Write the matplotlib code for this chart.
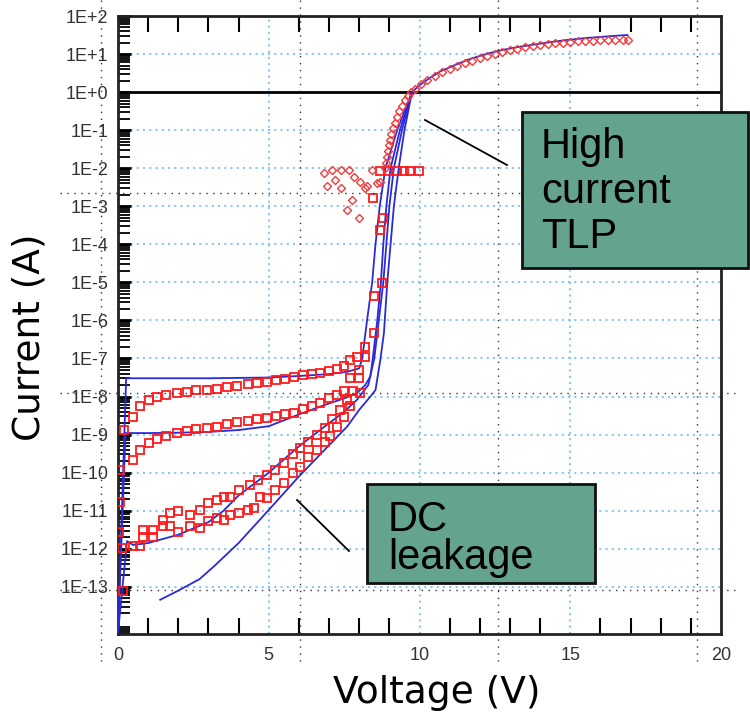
"""
DC leakage and high current TLP I-V curves on a log current axis.
"""
import matplotlib
matplotlib.use('Agg')
import matplotlib.pyplot as plt
import numpy as np
from matplotlib.lines import Line2D
from matplotlib.patches import Rectangle
from matplotlib.ticker import LogLocator, MultipleLocator, NullFormatter

###############################################################################
# Data (voltages in V, currents as log10 of A)
###############################################################################

# blue DC sweeps
dc1_v = [0.0, 0.27, 1.0, 2.0, 3.0, 4.0, 5.0, 6.0, 7.0, 7.6, 8.0, 8.1, 8.26, 8.43,
         8.54, 8.68, 8.87, 9.26, 9.75]
dc1_logi = [-14.2, -7.52, -7.52, -7.52, -7.52, -7.51, -7.5, -7.46, -7.41, -7.35,
            -7.26, -7.0, -6.0, -5.0, -4.0, -3.0, -2.0, -1.0, 0.0]

dc2_v = [0.0, 0.25, 1.0, 2.0, 3.0, 4.0, 5.0, 6.0, 7.0, 7.5, 7.92, 8.2, 8.37, 8.45,
         8.6, 8.72, 8.8, 8.9, 9.04, 9.35, 9.75]
dc2_logi = [-14.2, -8.96, -8.96, -8.95, -8.93, -8.88, -8.78, -8.47, -8.18, -8.05,
            -7.91, -7.7, -7.47, -7.0, -6.0, -5.0, -4.0, -3.0, -2.0, -1.0, 0.0]

dc3_v = [0.0, 0.2, 0.3, 0.5, 1.0, 2.0, 3.0, 3.5, 4.0, 5.0, 6.0, 7.0, 7.5, 7.92,
         8.3, 8.5, 8.65, 8.8, 8.9, 9.0, 9.15, 9.42, 9.75]
dc3_logi = [-14.2, -12.6, -11.8, -11.9, -11.85, -11.63, -11.3, -11.0, -10.6, -10.0,
            -9.31, -8.7, -8.4, -8.09, -7.7, -7.0, -6.0, -5.0, -4.0, -3.0, -2.0,
            -1.0, 0.0]

dc4_v = [1.4, 2.0, 2.7, 3.2, 3.6, 4.0, 5.0, 6.0, 7.0, 7.6, 8.0, 8.37, 8.54, 8.7,
         8.82, 8.93, 9.04, 9.15, 9.31, 9.5, 9.75]
dc4_logi = [-13.34, -13.1, -12.8, -12.45, -12.15, -11.85, -10.98, -10.1, -9.28,
            -8.79, -8.35, -8.0, -7.83, -7.04, -6.33, -5.02, -4.0, -3.0, -2.0,
            -1.0, 0.0]

# blue TLP line
tlp_line_v = [9.75, 10.0, 10.3, 10.7, 11.2, 11.6, 12.2, 12.7, 13.3, 13.8, 14.4,
              14.9, 15.5, 16.0, 16.5, 16.9]
tlp_line_logi = [0.0, 0.18, 0.35, 0.55, 0.72, 0.85, 1.0, 1.1, 1.19, 1.25, 1.32,
                 1.37, 1.42, 1.45, 1.48, 1.5]

# red squares, DC measurements
sq1_v = [0.49, 0.73, 1.04, 1.3, 1.6, 1.95, 2.3, 2.6, 2.95, 3.28, 3.6, 3.95, 4.3,
         4.6, 4.94, 5.25, 5.55, 5.83, 6.15, 6.45, 6.71, 7.0, 7.25, 7.48, 7.71,
         7.93, 8.2]
sq1_logi = [-8.55, -8.26, -8.09, -8.0, -7.95, -7.91, -7.87, -7.84, -7.82, -7.8,
            -7.76, -7.72, -7.68, -7.65, -7.62, -7.57, -7.53, -7.49, -7.44, -7.41,
            -7.38, -7.32, -7.27, -7.21, -7.05, -6.95, -6.69]

sq2_v = [0.2, 0.49, 0.73, 1.04, 1.3, 1.6, 1.95, 2.3, 2.6, 2.95, 3.28, 3.6, 3.95,
         4.3, 4.6, 4.94, 5.25, 5.55, 5.83, 6.15, 6.45, 6.71, 7.0, 7.25, 7.48,
         7.71, 7.98, 8.2]
sq2_logi = [-8.87, -9.66, -9.4, -9.22, -9.12, -9.04, -8.96, -8.9, -8.86, -8.82,
            -8.79, -8.73, -8.68, -8.63, -8.6, -8.57, -8.52, -8.46, -8.42, -8.33,
            -8.25, -8.17, -8.05, -7.95, -7.85, -7.52, -7.3, -6.95]

sq3_v = [0.49, 0.84, 1.17, 1.5, 1.73, 2.0, 2.39, 2.72, 3.0, 3.28, 3.5, 3.72, 4.0,
         4.39, 4.66, 4.94, 5.2, 5.5, 5.8, 6.05, 6.3, 6.6, 6.85, 7.1, 7.35, 7.6,
         7.8, 8.0]
sq3_logi = [-11.94, -11.5, -11.5, -11.24, -11.06, -11.02, -11.1, -10.98, -10.8,
            -10.71, -10.63, -10.63, -10.45, -10.32, -10.2, -10.06, -9.93, -9.75,
            -9.5, -9.35, -9.2, -9.0, -8.82, -8.6, -8.35, -8.1, -7.85, -7.5]

sq4_v = [0.73, 0.84, 1.17, 1.5, 1.73, 2.0, 2.39, 2.72, 3.0, 3.28, 3.5, 3.72, 4.0,
         4.3, 4.5, 4.72, 4.94, 5.2, 5.5, 5.8, 6.05, 6.3, 6.6, 6.85, 7.04, 7.25,
         7.48, 7.71, 8.04]
sq4_logi = [-11.94, -11.68, -11.68, -11.4, -11.41, -11.55, -11.41, -11.45, -11.28,
            -11.2, -11.24, -11.1, -11.06, -10.98, -10.93, -10.63, -10.67, -10.45,
            -10.28, -10.0, -9.84, -9.6, -9.4, -9.2, -9.05, -8.8, -8.53, -8.26,
            -7.91]

# stray squares near 0 V and in the breakdown region
sq_edge_v = [0.05, 0.05, 0.02, 0.12, 0.18]
sq_edge_logi = [-9.93, -10.76, -11.55, -11.98, -13.12]
sq_knee_v = [8.48, 8.48, 8.76, 8.7, 8.8, 8.46, 8.7, 8.97, 9.27, 9.47, 9.7, 9.97]
sq_knee_logi = [-6.33, -5.37, -5.02, -3.62, -3.31, -2.79, -2.06, -2.06, -2.06,
                -2.06, -2.06, -2.06]

# red diamonds, TLP
tlp_v = [6.82, 6.93, 7.1, 7.21, 7.38, 7.38, 7.6, 7.65, 7.77, 7.82, 7.98, 8.04,
         8.2, 8.26, 8.43, 8.6, 8.7,
         8.85, 8.88, 8.92, 8.95, 8.98, 9.02, 9.07, 9.12, 9.18, 9.25, 9.33, 9.42,
         9.52, 9.62, 9.72,
         9.85, 10.05, 10.25, 10.5, 10.75, 11.0, 11.25, 11.5, 11.75, 12.0, 12.25,
         12.5, 12.75, 13.0, 13.25, 13.5, 13.75, 14.0, 14.25, 14.5, 14.75, 15.0,
         15.25, 15.5, 15.75, 16.0, 16.25, 16.5, 16.75, 16.9]
tlp_logi = [-2.13, -2.48, -2.05, -2.31, -2.05, -2.53, -3.1, -2.05, -2.83, -2.22,
            -3.31, -2.35, -2.53, -2.48, -2.05, -2.39, -2.35,
            -2.0, -1.85, -1.7, -1.55, -1.4, -1.25, -1.1, -0.95, -0.8, -0.65, -0.5,
            -0.36, -0.22, -0.1, 0.0,
            0.08, 0.2, 0.31, 0.42, 0.52, 0.61, 0.69, 0.76, 0.83, 0.9, 0.96, 1.01,
            1.06, 1.1, 1.14, 1.18, 1.21, 1.24, 1.26, 1.28, 1.3, 1.32, 1.33, 1.35,
            1.35, 1.36, 1.37, 1.37, 1.38, 1.37]

y_decades = list(range(-13, 3))
x_major = [0, 5, 10, 15, 20]

###############################################################################
# Figure
###############################################################################

W, H = 750, 715


def fx(px):
    return px / W


def fy(py):
    return 1 - py / H


BLUE = '#2a2ad8'
RED = '#ff1a1a'
GRID = '#8cc8ec'
BOX = '#64a38e'

fig = plt.figure(figsize=(7.5, 7.15), dpi=100)
ax = fig.add_axes([fx(118), fy(634), fx(721) - fx(118), fy(16) - fy(634)])

for v, li in [(dc1_v, dc1_logi), (dc2_v, dc2_logi), (dc3_v, dc3_logi),
              (dc4_v, dc4_logi), (tlp_line_v, tlp_line_logi)]:
    ax.plot(v, 10.0 ** np.array(li), color=BLUE, lw=1.3, zorder=3)

sq_style = dict(ls='none', marker='s', ms=6, mfc='none', mec=RED, mew=1.3, zorder=4)
for v, li in [(sq1_v, sq1_logi), (sq2_v, sq2_logi), (sq3_v, sq3_logi),
              (sq4_v, sq4_logi), (sq_edge_v, sq_edge_logi),
              (sq_knee_v, sq_knee_logi)]:
    ax.plot(v, 10.0 ** np.array(li), **sq_style)

ax.plot(tlp_v, 10.0 ** np.array(tlp_logi), ls='none', marker='D', ms=4.5,
        mfc='none', mec='#f23a3a', mew=1.0, zorder=4)

ax.axhline(1.0, color='k', lw=2, zorder=2)

# axes
ax.set_yscale('log')
ax.set_xlim(0, 20)
ax.set_ylim(10 ** -14.24, 1e2)

ax.set_yticks([10.0 ** d for d in y_decades])
ax.set_yticklabels([f'1E{d:+d}' for d in y_decades])
ax.yaxis.set_minor_locator(LogLocator(base=10, subs=np.arange(2, 10), numticks=100))
ax.yaxis.set_minor_formatter(NullFormatter())
ax.set_xticks(x_major)
ax.set_xticklabels([str(x) for x in x_major])
ax.xaxis.set_minor_locator(MultipleLocator(1))

ax.tick_params(axis='y', which='major', direction='in', length=9, width=2,
               pad=7, labelsize=13, labelcolor='#333333', right=False)
ax.tick_params(axis='y', which='minor', direction='in', length=8.5, width=1.3,
               right=False)
ax.tick_params(axis='x', which='major', direction='in', length=0,
               pad=9, labelsize=13, labelcolor='#333333')
ax.tick_params(axis='x', which='minor', direction='in', length=11.5, width=1.5,
               top=True, bottom=True)
for lab in ax.get_xticklabels() + ax.get_yticklabels():
    lab.set_family('Liberation Sans')

ax.grid(True, which='major', color=GRID, ls=(0, (1, 2)), lw=1.5)
for s in ax.spines.values():
    s.set_linewidth(2)
    s.set_color('#222222')

# background dotted slide guides
for xp in [101, 300, 498, 697]:
    fig.add_artist(Line2D([fx(xp), fx(xp)], [fy(0), fy(665)], color='#333333',
                          lw=1, ls=(0, (1, 4)), zorder=1))
for yp in [193, 393, 590]:
    fig.add_artist(Line2D([fx(60), fx(740)], [fy(yp), fy(yp)], color='#333333',
                          lw=1, ls=(0, (1, 4)), zorder=1))

# axis titles
fig.text(fx(437), fy(703), 'Voltage (V)', fontsize=27, ha='center',
         va='baseline', family='DejaVu Sans')
fig.text(fx(30), fy(337), 'Current (A)', fontsize=27, ha='center',
         va='center', rotation=90, family='DejaVu Sans')

# callouts
fig.add_artist(Line2D([fx(425), fx(507)], [fy(120), fy(165)], color='k', lw=1.3,
                      zorder=5))
fig.add_artist(Line2D([fx(297), fx(349)], [fy(500), fy(551)], color='k', lw=1.3,
                      zorder=5))
fig.add_artist(Rectangle((fx(522), fy(268)), fx(748) - fx(522), fy(112) - fy(268),
                         transform=fig.transFigure, facecolor=BOX,
                         edgecolor='#111111', lw=2, zorder=5))
fig.add_artist(Rectangle((fx(367), fy(583)), fx(595) - fx(367), fy(484) - fy(583),
                         transform=fig.transFigure, facecolor=BOX,
                         edgecolor='#111111', lw=2, zorder=5))
for txt, yb in [('High', 158), ('current', 203), ('TLP', 248)]:
    fig.text(fx(541), fy(yb), txt, fontsize=30, va='baseline', ha='left',
             family='Liberation Sans', zorder=6)
for txt, yb in [('DC', 531), ('leakage', 569)]:
    fig.text(fx(388), fy(yb), txt, fontsize=30, va='baseline', ha='left',
             family='Liberation Sans', zorder=6)

plt.savefig('out.png', dpi=100)
